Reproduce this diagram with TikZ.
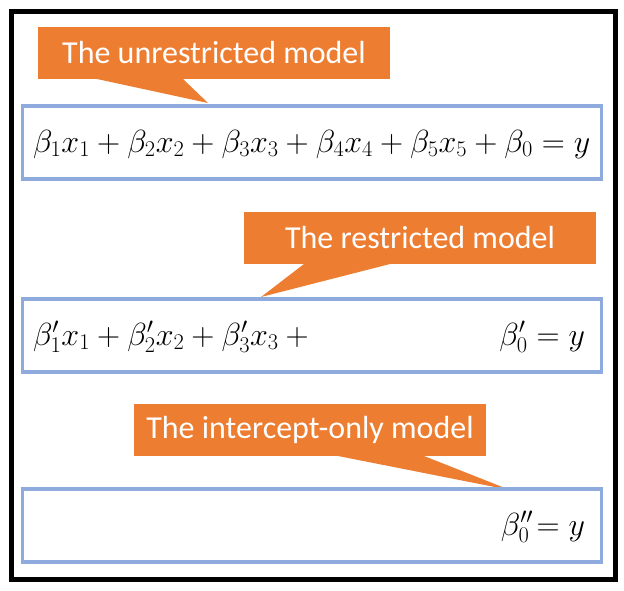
\documentclass[tikz,border=0pt]{standalone}
\usepackage{fix-cm}
\usepackage[no-math]{fontspec}
\setmainfont{Carlito}
\definecolor{calloutorange}{HTML}{ED7D31}
\definecolor{boxblue}{HTML}{8FAADC}
\begin{document}
\begin{tikzpicture}[x=1pt,y=-1pt,
  callout/.style={fill=calloutorange, text=white, minimum width=352pt, minimum height=52pt,
    inner sep=0pt, outer sep=0pt, anchor=north west, font=\fontsize{32}{38}\selectfont},
  eqbox/.style={draw=boxblue, line width=3.8pt, minimum width=579pt, minimum height=73pt,
    inner sep=0pt, outer sep=0pt, anchor=north west},
  eqtext/.style={inner sep=0pt, outer sep=0pt, font=\fontsize{32}{38}\selectfont},
  frame/.style={draw=black, line width=5pt, minimum width=604.5pt, minimum height=568pt,
    inner sep=0pt, outer sep=0pt, anchor=north west}]
\useasboundingbox (0,0) rectangle (624,590);
\node[frame] (frame) at (11,11.5) {};
% callouts
\node[callout] (c1) at (38,27) {The unrestricted model};
\node[callout] (c2) at (244,212) {The restricted model};
\node[callout] (c3) at (134,404) {The intercept-only model};
\coordinate (t1) at (208,103);
\coordinate (t2) at (261,297);
\coordinate (t3) at (510,490);
\fill[calloutorange] ([xshift=59pt]c1.south west) -- (t1) -- ([xshift=145pt]c1.south west) -- cycle;
\fill[calloutorange] ([xshift=60pt]c2.south west) -- (t2) -- ([xshift=146pt]c2.south west) -- cycle;
\fill[calloutorange] ([xshift=204pt]c3.south west) -- (t3) -- ([xshift=290pt]c3.south west) -- cycle;
% equation boxes
\node[eqbox] (b1) at (22.5,106) {};
\node[eqbox] (b2) at (22.5,299) {};
\node[eqbox] (b3) at (22.5,489) {};
% equations
\node[eqtext, anchor=base west] (e1) at (33,152)
  {$\beta_1x_1+\beta_2x_2+\beta_3x_3+\beta_4x_4+\beta_5x_5+\beta_0=y$};
\node[eqtext, anchor=base west] (e2l) at (33,345)
  {$\beta_1'x_1+\beta_2'x_2+\beta_3'x_3+{}$};
\node[eqtext, anchor=base east] (e2r) at (585,345) {$\beta_0'=y$};
\node[eqtext, anchor=base east] (e3) at (585,535) {$\beta_0''\!=y$};
\end{tikzpicture}
\end{document}
